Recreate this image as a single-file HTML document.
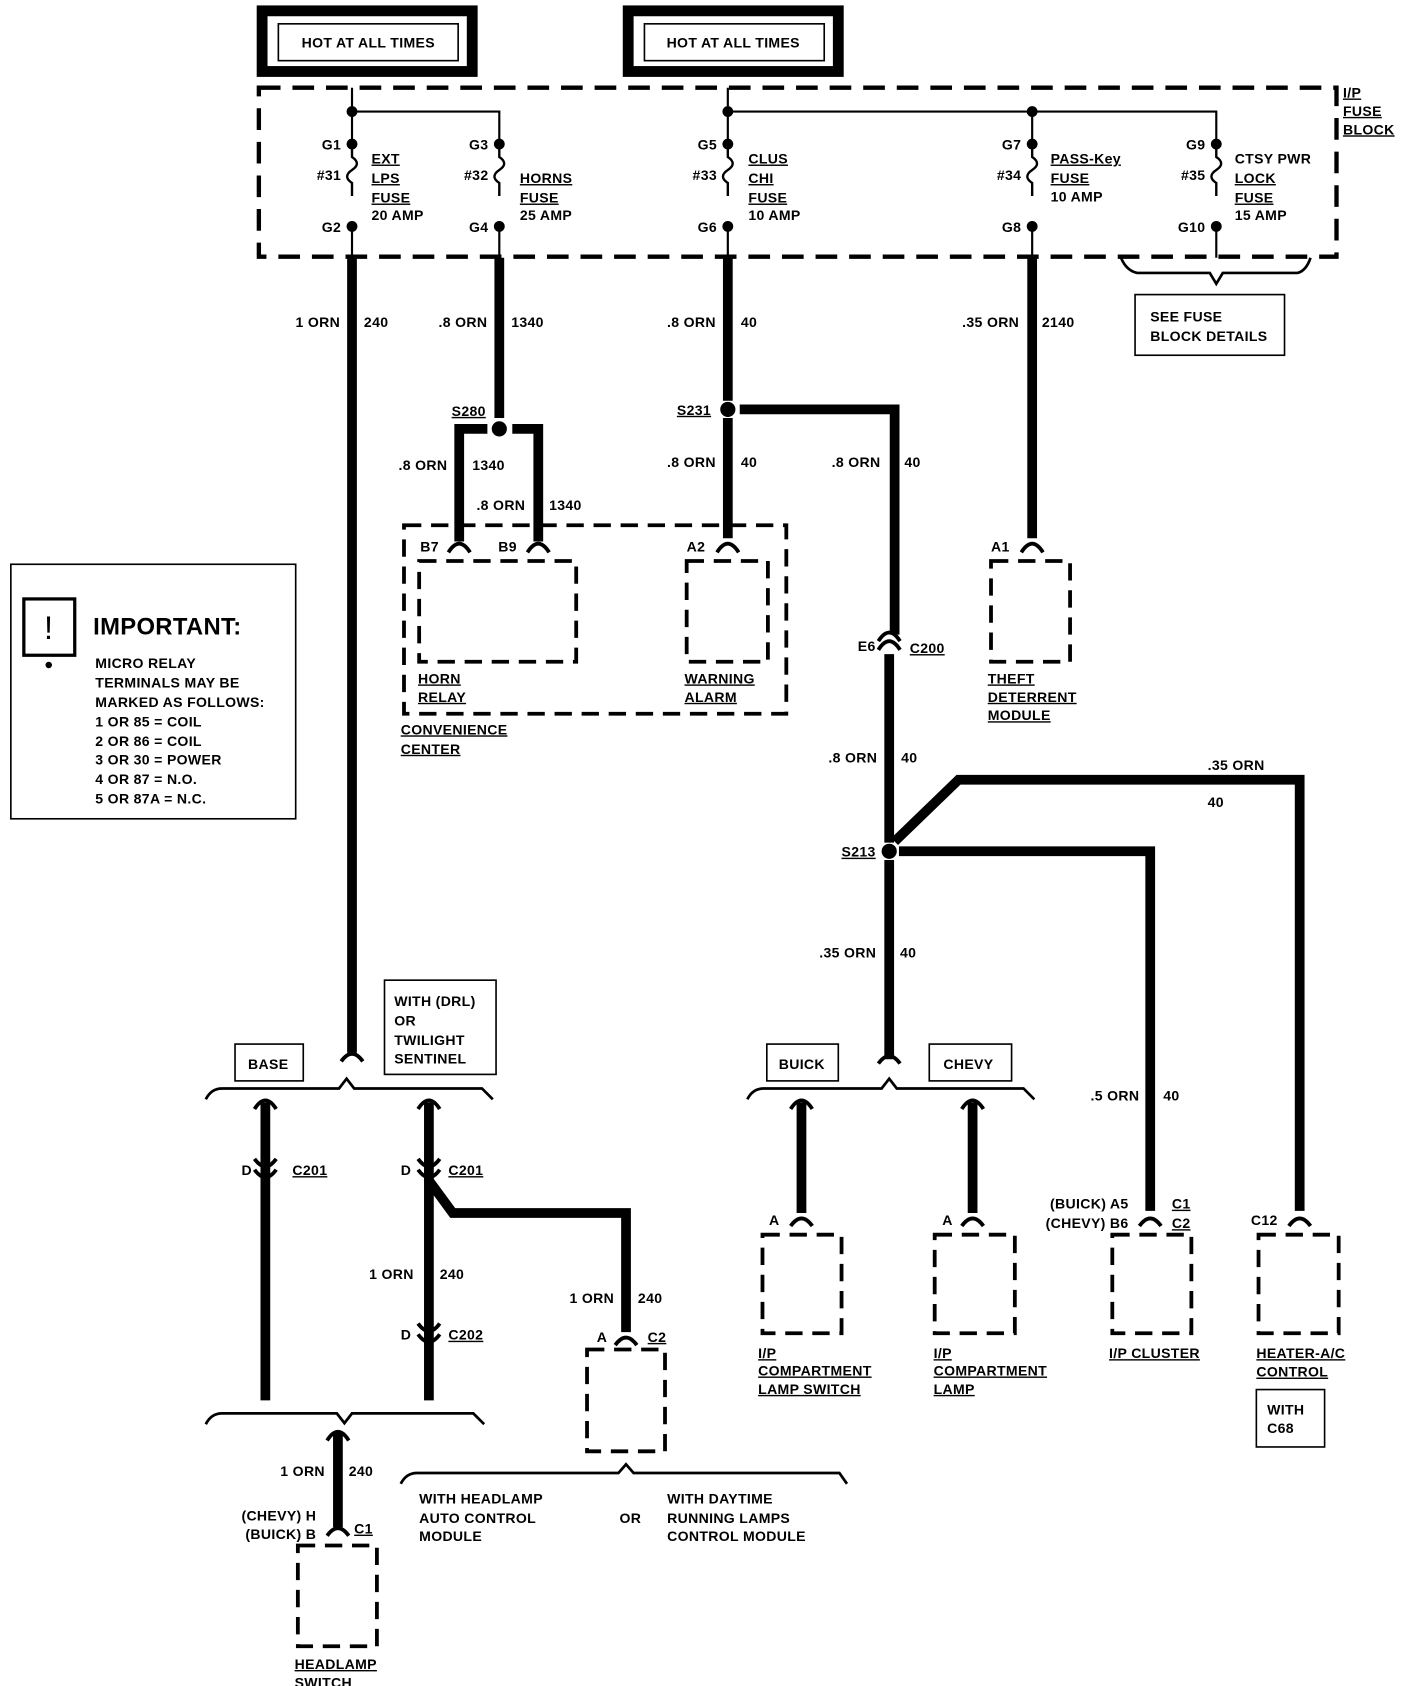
<!DOCTYPE html>
<html><head><meta charset="utf-8"><style>
html,body{margin:0;padding:0;background:#fff}
svg{display:block}
text{font-family:"Liberation Sans",sans-serif;font-weight:bold;font-size:13px;fill:#000;letter-spacing:0.3px}
.u{text-decoration:underline}
</style></head><body>
<svg width="1408" height="1686" viewBox="0 0 1300 1556.7" xmlns="http://www.w3.org/2000/svg">
<defs>
<path id="fz" d="M0,0 l0,12 q9,6 0,12 q-9,6 0,12 l0,12" fill="none" stroke="#000" stroke-width="2.2"/>
</defs>
<g fill="none" stroke="#000">
<rect x="242" y="10" width="194" height="56" stroke-width="10"/>
<rect x="257" y="22" width="166" height="34" stroke-width="1.5"/>
<rect x="580" y="10" width="194" height="56" stroke-width="10"/>
<rect x="595" y="22" width="166" height="34" stroke-width="1.5"/>
<rect x="239" y="81" width="995" height="156" stroke-width="4" stroke-dasharray="20,11"/>
<path d="M325,81 V133 M325,103 H461 V133 M672,81 V133 M672,103 H1123 V133 M953,103 V133" stroke-width="2"/>
<path d="M325,209 V238 M461,209 V238 M672,209 V238 M953,209 V238 M1123,209 V238" stroke-width="2"/>
</g>
<g>
<use href="#fz" x="325" y="133"/>
<use href="#fz" x="461" y="133"/>
<use href="#fz" x="672" y="133"/>
<use href="#fz" x="953" y="133"/>
<use href="#fz" x="1123" y="133"/>
</g>
<g fill="#000">
<circle cx="325" cy="103" r="5"/><circle cx="672" cy="103" r="5"/><circle cx="953" cy="103" r="5"/>
<circle cx="325" cy="133" r="5"/><circle cx="461" cy="133" r="5"/><circle cx="672" cy="133" r="5"/><circle cx="953" cy="133" r="5"/><circle cx="1123" cy="133" r="5"/>
<circle cx="325" cy="209" r="5"/><circle cx="461" cy="209" r="5"/><circle cx="672" cy="209" r="5"/><circle cx="953" cy="209" r="5"/><circle cx="1123" cy="209" r="5"/>
<circle cx="461" cy="396" r="7"/><circle cx="672" cy="378" r="7"/><circle cx="821" cy="786" r="7"/>
</g>
<g fill="none" stroke="#000" stroke-width="9">
<path d="M325,238 V972"/>
<path d="M461,238 V386"/>
<path d="M672,238 V370"/>
<path d="M953,238 V497"/>
<path d="M424,500 V396 H450 M473,396 H497 V500"/>
<path d="M672,386 V497"/>
<path d="M683,378 H826 V586"/>
<path d="M821,604 V778"/>
<path d="M826,777 L885,720 H1200 V1118"/>
<path d="M830,786 H1062 V1118"/>
<path d="M821,794 V978"/>
<path d="M740,1018 V1120 M898,1018 V1120"/>
<path d="M245,1018 V1293 M396,1018 V1293"/>
<path d="M396,1090 L418,1120 H578 V1230"/>
<path d="M312,1322 V1410"/>
</g>
<g fill="none" stroke="#000" stroke-width="3.5">
<path d="M414,510 Q424,494 434,510 M487,510 Q497,494 507,510 M662,510 Q672,494 682,510 M943,510 Q953,494 963,510"/>
<path d="M811,592 Q821,576 831,592 M811,600 Q821,584 831,600"/>
<path d="M315,980 Q325,966 335,980 M811,982 Q821,968 831,982"/>
<path d="M235,1024 Q245,1008 255,1024 M386,1024 Q396,1008 406,1024 M730,1024 Q740,1008 750,1024 M888,1024 Q898,1008 908,1024 M302,1330 Q312,1314 322,1330"/>
<path d="M235,1070 Q245,1084 255,1070 M235,1080 Q245,1094 255,1080 M386,1070 Q396,1084 406,1070 M386,1080 Q396,1094 406,1080 M386,1222 Q396,1236 406,1222 M386,1232 Q396,1246 406,1232"/>
<path d="M730,1132 Q740,1118 750,1132 M888,1132 Q898,1118 908,1132 M1052,1132 Q1062,1118 1072,1132 M1190,1132 Q1200,1118 1210,1132 M568,1242 Q578,1228 588,1242 M302,1418 Q312,1404 322,1418"/>
</g>
<g fill="none" stroke="#000" stroke-width="2.5">
<path d="M1035,238 Q1040,250 1050,252 H1117 L1123,262 L1129,252 H1198 Q1206,250 1210,238"/>
<path d="M190,1015 Q195,1005 205,1005 H313 L320,996 L327,1005 H445 L455,1015"/>
<path d="M690,1015 Q695,1005 705,1005 H814 L821,996 L828,1005 H945 L955,1015"/>
<path d="M190,1315 Q195,1305 205,1305 H311 L318,1314 L325,1305 H437 L447,1315"/>
<path d="M370,1370 Q375,1360 385,1360 H571 L578,1352 L585,1360 H775 L782,1370"/>
</g>
<g fill="none" stroke="#000" stroke-width="3.5" stroke-dasharray="16,9">
<rect x="373" y="485" width="353" height="174"/>
<rect x="387" y="518" width="145" height="93"/>
<rect x="634" y="518" width="75" height="93"/>
<rect x="915" y="518" width="73" height="93"/>
<rect x="704" y="1140" width="73" height="91"/>
<rect x="863" y="1140" width="74" height="91"/>
<rect x="1027" y="1140" width="73" height="91"/>
<rect x="1162" y="1140" width="74" height="91"/>
<rect x="542" y="1246" width="72" height="94"/>
<rect x="275" y="1427" width="73" height="93"/>
</g>
<g fill="none" stroke="#000" stroke-width="1.5">
<rect x="1048" y="272" width="138" height="56"/>
<rect x="217" y="964" width="63" height="34"/>
<rect x="355" y="905" width="103" height="87"/>
<rect x="708" y="964" width="66" height="34"/>
<rect x="858" y="964" width="76" height="34"/>
<rect x="1160" y="1283" width="63" height="53"/>
<rect x="10" y="521" width="263" height="235"/>
<rect x="22" y="553" width="47" height="52" stroke-width="3"/>
</g>
<circle cx="45" cy="614" r="3" fill="#000"/>
<text x="45" y="590" text-anchor="middle" style="font-size:30px;font-weight:normal">!</text>
<text x="86" y="586" style="font-size:22px">IMPORTANT:</text>
<g>
<text x="88" y="617">MICRO RELAY</text>
<text x="88" y="635">TERMINALS MAY BE</text>
<text x="88" y="653">MARKED AS FOLLOWS:</text>
<text x="88" y="671">1 OR 85 = COIL</text>
<text x="88" y="689">2 OR 86 = COIL</text>
<text x="88" y="706">3 OR 30 = POWER</text>
<text x="88" y="724">4 OR 87 = N.O.</text>
<text x="88" y="742">5 OR 87A = N.C.</text>
</g>
<text x="340" y="44" text-anchor="middle">HOT AT ALL TIMES</text>
<text x="677" y="44" text-anchor="middle">HOT AT ALL TIMES</text>
<text x="1240" y="90" class="u">I/P</text><text x="1240" y="107" class="u">FUSE</text><text x="1240" y="124" class="u">BLOCK</text>
<g text-anchor="end">
<text x="315" y="138">G1</text><text x="315" y="166">#31</text><text x="315" y="214">G2</text>
<text x="451" y="138">G3</text><text x="451" y="166">#32</text><text x="451" y="214">G4</text>
<text x="662" y="138">G5</text><text x="662" y="166">#33</text><text x="662" y="214">G6</text>
<text x="943" y="138">G7</text><text x="943" y="166">#34</text><text x="943" y="214">G8</text>
<text x="1113" y="138">G9</text><text x="1113" y="166">#35</text><text x="1113" y="214">G10</text>
</g>
<text x="343" y="151" class="u">EXT</text><text x="343" y="169" class="u">LPS</text><text x="343" y="187" class="u">FUSE</text><text x="343" y="203">20 AMP</text>
<text x="480" y="169" class="u">HORNS</text><text x="480" y="187" class="u">FUSE</text><text x="480" y="203">25 AMP</text>
<text x="691" y="151" class="u">CLUS</text><text x="691" y="169" class="u">CHI</text><text x="691" y="187" class="u">FUSE</text><text x="691" y="203">10 AMP</text>
<text x="970" y="151" class="u">PASS-Key</text><text x="970" y="169" class="u">FUSE</text><text x="970" y="186">10 AMP</text>
<text x="1140" y="151">CTSY PWR</text><text x="1140" y="169" class="u">LOCK</text><text x="1140" y="187" class="u">FUSE</text><text x="1140" y="203">15 AMP</text>
<text x="1062" y="297">SEE FUSE</text><text x="1062" y="315">BLOCK DETAILS</text>
<g text-anchor="end">
<text x="314" y="302">1 ORN</text><text x="450" y="302">.8 ORN</text><text x="661" y="302">.8 ORN</text><text x="941" y="302">.35 ORN</text>
<text x="413" y="434">.8 ORN</text><text x="485" y="471">.8 ORN</text><text x="661" y="431">.8 ORN</text><text x="813" y="431">.8 ORN</text>
<text x="810" y="704">.8 ORN</text><text x="809" y="884">.35 ORN</text><text x="1052" y="1016">.5 ORN</text>
<text x="382" y="1181">1 ORN</text><text x="567" y="1203">1 ORN</text><text x="300" y="1363">1 ORN</text>
<text x="292" y="1404">(CHEVY) H</text><text x="292" y="1421">(BUICK) B</text>
<text x="1042" y="1116">(BUICK) A5</text><text x="1042" y="1134">(CHEVY) B6</text>
</g>
<text x="336" y="302">240</text><text x="472" y="302">1340</text><text x="684" y="302">40</text><text x="962" y="302">2140</text>
<text x="436" y="434">1340</text><text x="507" y="471">1340</text><text x="684" y="431">40</text><text x="835" y="431">40</text>
<text x="832" y="704">40</text><text x="831" y="884">40</text><text x="1074" y="1016">40</text>
<text x="1115" y="711">.35 ORN</text><text x="1115" y="745">40</text>
<text x="406" y="1181">240</text><text x="589" y="1203">240</text><text x="322" y="1363">240</text>
<text x="417" y="384" class="u">S280</text><text x="625" y="383" class="u">S231</text><text x="777" y="791" class="u">S213</text>
<text x="388" y="509">B7</text><text x="460" y="509">B9</text><text x="634" y="509">A2</text><text x="915" y="509">A1</text>
<text x="792" y="601">E6</text><text x="840" y="603" class="u">C200</text>
<text x="386" y="631" class="u">HORN</text><text x="386" y="648" class="u">RELAY</text>
<text x="632" y="631" class="u">WARNING</text><text x="632" y="648" class="u">ALARM</text>
<text x="370" y="678" class="u">CONVENIENCE</text><text x="370" y="696" class="u">CENTER</text>
<text x="912" y="631" class="u">THEFT</text><text x="912" y="648" class="u">DETERRENT</text><text x="912" y="665" class="u">MODULE</text>
<text x="229" y="987">BASE</text><text x="719" y="987">BUICK</text><text x="871" y="987">CHEVY</text>
<text x="364" y="929">WITH (DRL)</text><text x="364" y="947">OR</text><text x="364" y="965">TWILIGHT</text><text x="364" y="982">SENTINEL</text>
<text x="223" y="1085">D</text><text x="270" y="1085" class="u">C201</text>
<text x="370" y="1085">D</text><text x="414" y="1085" class="u">C201</text>
<text x="370" y="1237">D</text><text x="414" y="1237" class="u">C202</text>
<text x="551" y="1239">A</text><text x="598" y="1239" class="u">C2</text>
<text x="327" y="1416" class="u">C1</text>
<text x="710" y="1131">A</text><text x="870" y="1131">A</text>
<text x="1082" y="1116" class="u">C1</text><text x="1082" y="1134" class="u">C2</text>
<text x="1155" y="1131">C12</text>
<text x="700" y="1254" class="u">I/P</text><text x="700" y="1270" class="u">COMPARTMENT</text><text x="700" y="1287" class="u">LAMP SWITCH</text>
<text x="862" y="1254" class="u">I/P</text><text x="862" y="1270" class="u">COMPARTMENT</text><text x="862" y="1287" class="u">LAMP</text>
<text x="1024" y="1254" class="u">I/P CLUSTER</text>
<text x="1160" y="1254" class="u">HEATER-A/C</text><text x="1160" y="1271" class="u">CONTROL</text>
<text x="1170" y="1306">WITH</text><text x="1170" y="1323">C68</text>
<text x="387" y="1388">WITH HEADLAMP</text><text x="387" y="1406">AUTO CONTROL</text><text x="387" y="1423">MODULE</text>
<text x="572" y="1406">OR</text>
<text x="616" y="1388">WITH DAYTIME</text><text x="616" y="1406">RUNNING LAMPS</text><text x="616" y="1423">CONTROL MODULE</text>
<text x="272" y="1541" class="u">HEADLAMP</text><text x="272" y="1558" class="u">SWITCH</text>
</svg>
</body></html>
